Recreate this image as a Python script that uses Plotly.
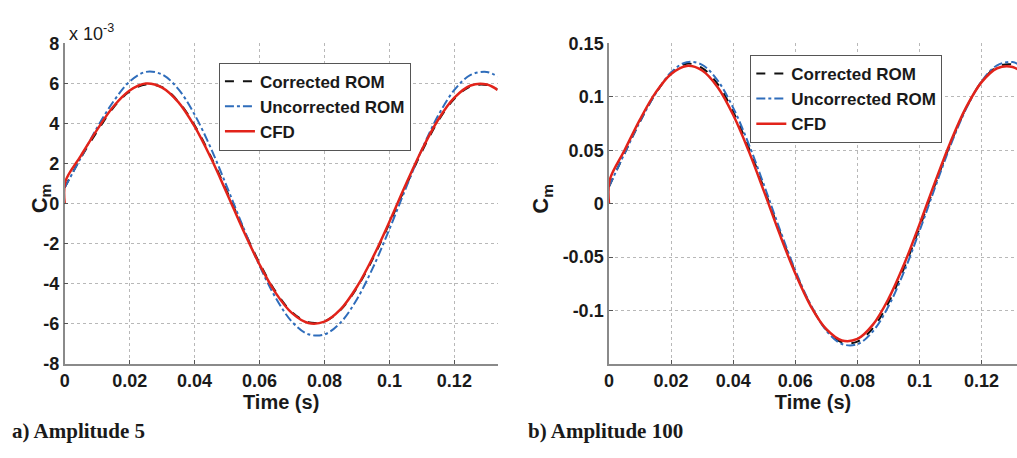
import plotly.graph_objects as go

# ---------------- data ----------------
t = [0.0, 0.005, 0.01, 0.015, 0.02, 0.025, 0.03, 0.035, 0.04, 0.045, 0.05,
     0.055, 0.06, 0.065, 0.07, 0.075, 0.08, 0.085, 0.09, 0.095, 0.1,
     0.105, 0.11, 0.115, 0.12, 0.125, 0.13, 0.1333]

# Amplitude 5 (values x 1e-3)
a_corr = [0.8, 2.3, 3.6, 4.8, 5.6, 5.95, 5.82, 5.1, 3.92, 2.36, 0.6,
          -1.25, -2.97, -4.4, -5.42, -5.92, -5.88, -5.3, -4.2, -2.72, -0.98,
          0.85, 2.6, 4.12, 5.24, 5.86, 5.93, 5.7]
a_unc = [0.8, 2.3, 3.8, 5.1, 6.1, 6.58, 6.45, 5.72, 4.45, 2.77, 0.83,
         -1.19, -3.10, -4.71, -5.90, -6.52, -6.53, -5.93, -4.77, -3.17, -1.27,
         0.75, 2.71, 4.40, 5.68, 6.43, 6.58, 6.34]
a_cfd_t = [0.0, 0.0002, 0.005, 0.01, 0.015, 0.02, 0.025, 0.03, 0.035, 0.04, 0.045, 0.05,
           0.055, 0.06, 0.065, 0.07, 0.075, 0.08, 0.085, 0.09, 0.095, 0.1,
           0.105, 0.11, 0.115, 0.12, 0.125, 0.13, 0.1333]
a_cfd = [0.0, 1.1, 2.4, 3.7, 4.85, 5.65, 6.0, 5.80, 5.07, 3.86, 2.29, 0.50,
         -1.34, -3.04, -4.47, -5.47, -5.96, -5.89, -5.27, -4.15, -2.65, -0.90,
         0.94, 2.69, 4.19, 5.29, 5.90, 5.95, 5.68]

# Amplitude 100
b_corr = [0.016, 0.047, 0.077, 0.103, 0.122, 0.131, 0.127, 0.112, 0.086, 0.0525, 0.0135,
          -0.0265, -0.064, -0.0955, -0.118, -0.1298, -0.1292, -0.1165, -0.0928, -0.0605, -0.0225,
          0.0177, 0.0562, 0.0894, 0.1142, 0.1282, 0.1303, 0.125]
b_unc = [0.016, 0.047, 0.077, 0.103, 0.123, 0.1325, 0.130, 0.1153, 0.0897, 0.0558, 0.0167,
         -0.024, -0.0625, -0.0949, -0.1189, -0.1314, -0.1316, -0.1195, -0.0961, -0.0639, -0.0256,
         0.0151, 0.0546, 0.0887, 0.1145, 0.1296, 0.1326, 0.1278]
b_cfd = [0.0, 0.022, 0.05, 0.079, 0.104, 0.1215, 0.129, 0.1247, 0.109, 0.083, 0.0492, 0.0108,
         -0.0288, -0.0654, -0.0961, -0.1176, -0.1281, -0.1267, -0.1133, -0.0892, -0.057, -0.0194,
         0.0202, 0.0578, 0.0901, 0.1138, 0.1268, 0.128, 0.1221]

x_ticks = [0, 0.02, 0.04, 0.06, 0.08, 0.1, 0.12]
x_ticktext = ["0", "0.02", "0.04", "0.06", "0.08", "0.1", "0.12"]
a_yticks = [-8, -6, -4, -2, 0, 2, 4, 6, 8]
a_yticktext = ["-8", "-6", "-4", "-2", "0", "2", "4", "6", "8"]
b_yticks = [-0.1, -0.05, 0, 0.05, 0.1, 0.15]
b_yticktext = ["-0.1", "-0.05", "0", "0.05", "0.1", "0.15"]

names = ["Corrected ROM", "Uncorrected ROM", "CFD"]

# ---------------- style ----------------
FONT = "Liberation Sans"
C_BLACK = "#111111"
C_BLUE = "#2f6dbb"
C_RED = "#e2231a"
AX = "#8a8a8a"
GRID = "#b8b8b8"
TXT = "#1a1a1a"

fig = go.Figure()

def add_set(xa, ya, leg, corr, unc, cfd_x, cfd):
    fig.add_trace(go.Scatter(x=t, y=corr, name=names[0], mode="lines",
                             line=dict(color=C_BLACK, width=2, dash="dash", shape="spline"),
                             xaxis=xa, yaxis=ya, legend=leg))
    fig.add_trace(go.Scatter(x=t, y=unc, name=names[1], mode="lines",
                             line=dict(color=C_BLUE, width=2, dash="dashdot", shape="spline"),
                             xaxis=xa, yaxis=ya, legend=leg))
    fig.add_trace(go.Scatter(x=cfd_x, y=cfd, name=names[2], mode="lines",
                             line=dict(color=C_RED, width=2.5, shape="spline"),
                             xaxis=xa, yaxis=ya, legend=leg))

add_set("x", "y", "legend", a_corr, a_unc, a_cfd_t, a_cfd)
add_set("x2", "y2", "legend2", b_corr, b_unc, a_cfd_t, b_cfd)

tickfont = dict(family=FONT, size=18, color=TXT, weight="bold")
titlefont = dict(family=FONT, size=20, color=TXT, weight="bold")

def xaxis(domain, rng, anchor):
    return dict(domain=domain, range=rng, anchor=anchor, tickvals=x_ticks, ticktext=x_ticktext,
                tickfont=tickfont, showline=True, linecolor=AX, linewidth=1.5,
                ticks="inside", ticklen=4, tickcolor="#555", showgrid=True,
                gridcolor=GRID, griddash="dot", gridwidth=1, zeroline=False,
                title=dict(text="Time (s)", font=titlefont, standoff=0), mirror=False)

def yaxis(domain, rng, anchor, tv, tt):
    return dict(domain=domain, range=rng, anchor=anchor, tickvals=tv, ticktext=tt,
                tickfont=tickfont, showline=True, linecolor=AX, linewidth=1.5,
                ticks="inside", ticklen=4, tickcolor="#555", showgrid=True,
                gridcolor=GRID, griddash="dot", gridwidth=1, zeroline=False, mirror=False)

legfont = dict(family=FONT, size=17, color=TXT, weight="bold")
ydom = [1 - 370 / 458, 1 - 35 / 458]
fig.update_layout(
    width=1017, height=458,
    margin=dict(l=0, r=0, t=0, b=0),
    paper_bgcolor="white", plot_bgcolor="white",
    showlegend=True,
    xaxis=xaxis([60 / 1017, 495 / 1017], [0, 0.1333], "y"),
    yaxis=yaxis(ydom, [-8, 8], "x", a_yticks, a_yticktext),
    xaxis2=xaxis([607 / 1017, 1.0], [0, 0.1314], "y2"),
    yaxis2=yaxis(ydom, [-0.15, 0.15], "x2", b_yticks, b_yticktext),
    legend=dict(x=215 / 1017, y=1 - 55 / 458, xanchor="left", yanchor="top",
                bgcolor="white", bordercolor="#555", borderwidth=1,
                font=legfont, tracegroupgap=0, itemwidth=30),
    legend2=dict(x=749 / 1017, y=1 - 47 / 458, xanchor="left", yanchor="top",
                 bgcolor="white", bordercolor="#555", borderwidth=1,
                 font=legfont, tracegroupgap=0, itemwidth=30),
    annotations=[
        dict(text="C<sub>m</sub>", x=20 / 1017, y=1 - 197 / 458, xref="paper", yref="paper",
             showarrow=False, textangle=-90, font=dict(family=FONT, size=22, color=TXT, weight="bold")),
        dict(text="C<sub>m</sub>", x=540 / 1017, y=1 - 197 / 458, xref="paper", yref="paper",
             showarrow=False, textangle=-90, font=dict(family=FONT, size=22, color=TXT, weight="bold")),
        dict(text="x 10<sup>-3</sup>", x=62 / 1017, y=1 - 24 / 458, xref="paper", yref="paper",
             xanchor="left", yanchor="middle", showarrow=False,
             font=dict(family=FONT, size=18, color=TXT)),
        dict(text="a) Amplitude 5", x=5 / 1017, y=1 - 440 / 458, xref="paper", yref="paper",
             xanchor="left", yanchor="middle", showarrow=False,
             font=dict(family="Liberation Serif", size=21, color=TXT, weight="bold")),
        dict(text="b) Amplitude 100", x=524 / 1017, y=1 - 440 / 458, xref="paper", yref="paper",
             xanchor="left", yanchor="middle", showarrow=False,
             font=dict(family="Liberation Serif", size=21, color=TXT, weight="bold")),
    ],
)

fig.write_html("out.html")
